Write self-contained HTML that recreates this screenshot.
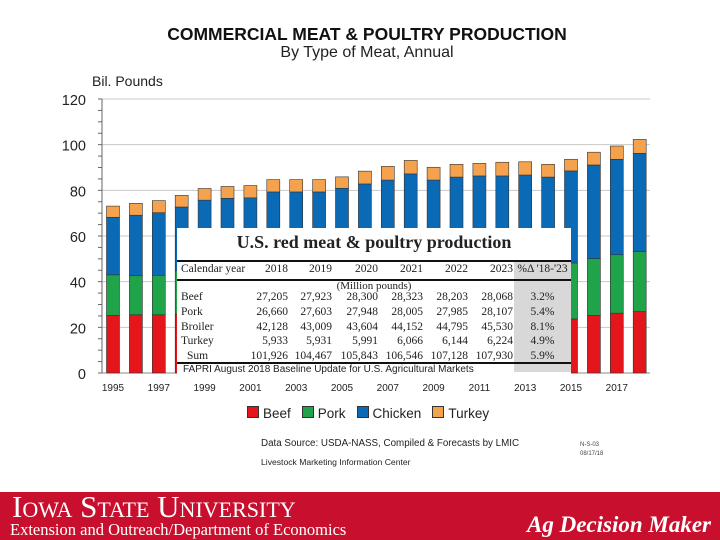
<!DOCTYPE html>
<html><head><meta charset="utf-8"><style>
body{margin:0;width:720px;height:540px;background:#fff;position:relative;overflow:hidden;font-family:"Liberation Sans",sans-serif}
.abs{position:absolute}
</style></head><body>
<div class="abs" style="left:0;width:734px;top:24px;text-align:center;font-weight:bold;font-size:17.5px;color:#111">COMMERCIAL MEAT &amp; POULTRY PRODUCTION</div>
<div class="abs" style="left:0;width:734px;top:44px;text-align:center;font-size:16px;color:#222">By Type of Meat, Annual</div>
<svg class="abs" style="left:0;top:0" width="720" height="490" id="chart"></svg>

<div class="abs" style="left:177px;top:228px;width:394px;height:150px;background:#fff;font-family:'Liberation Serif',serif;color:#222">
  <div style="position:absolute;left:337px;top:33px;width:57px;height:111px;background:#d8d8d8"></div>
  <div style="position:absolute;left:0;width:394px;top:4px;text-align:center;font-weight:bold;font-size:18px">U.S. red meat &amp; poultry production</div>
  <div style="position:absolute;left:0;width:394px;top:32px;border-top:2px solid #111"></div>
  <div style="position:absolute;left:0;width:394px;top:51px;border-top:2px solid #111"></div>
  <div style="position:absolute;left:0;width:394px;top:134px;border-top:2px solid #111"></div>
  <div id="tbl"></div>
  <div style="position:absolute;left:6px;top:136px;font-size:10px;font-family:'Liberation Sans',sans-serif">FAPRI August 2018 Baseline Update for U.S. Agricultural Markets</div>
</div>

<div class="abs" style="left:247px;top:406px;font-size:13.5px;color:#222;display:flex;gap:11px">
  <span><span style="display:inline-block;width:10px;height:10px;background:#e5161b;border:1px solid #333;margin-right:4px"></span>Beef</span>
  <span><span style="display:inline-block;width:10px;height:10px;background:#1fa44a;border:1px solid #333;margin-right:4px"></span>Pork</span>
  <span><span style="display:inline-block;width:10px;height:10px;background:#0b6ab6;border:1px solid #333;margin-right:4px"></span>Chicken</span>
  <span><span style="display:inline-block;width:10px;height:10px;background:#f4a24d;border:1px solid #333;margin-right:4px"></span>Turkey</span>
</div>
<div class="abs" style="left:261px;top:438px;font-size:9.8px;color:#222">Data Source:  USDA-NASS, Compiled &amp; Forecasts by LMIC</div>
<div class="abs" style="left:261px;top:457px;font-size:8.6px;color:#222">Livestock Marketing Information Center</div>
<div class="abs" style="left:580px;top:441px;font-size:6px;color:#444;line-height:9px">N-S-03<br>08/17/18</div>

<div class="abs" style="left:0;top:492px;width:720px;height:48px;background:#c8102e;color:#fff;font-family:'Liberation Serif',serif">
  <div style="position:absolute;left:12px;top:-3px;font-size:31px;font-variant:small-caps;white-space:nowrap">Iowa State University</div>
  <div style="position:absolute;left:10px;top:28px;font-size:16.5px;white-space:nowrap">Extension and Outreach/Department of Economics</div>
  <div style="position:absolute;left:527px;top:20px;font-size:23px;font-style:italic;font-weight:bold;white-space:nowrap">Ag Decision Maker</div>
</div>

<script>
const years=[1995,1996,1997,1998,1999,2000,2001,2002,2003,2004,2005,2006,2007,2008,2009,2010,2011,2012,2013,2014,2015,2016,2017,2018];
const beef=[25.2,25.5,25.5,25.8,26.4,26.9,26.1,27.1,26.2,24.6,24.7,26.1,26.4,26.6,26.0,26.3,26.2,25.9,25.7,24.3,23.7,25.2,26.2,26.9];
const pork=[17.8,17.1,17.3,19.0,19.3,18.9,19.2,19.7,19.9,20.5,20.7,21.1,21.9,23.4,23.0,22.4,22.8,23.3,23.2,22.8,24.5,24.9,25.6,26.3];
const chicken=[25.2,26.5,27.4,27.9,30.0,30.7,31.4,32.5,33.2,34.2,35.5,35.6,36.2,37.2,35.5,37.1,37.3,37.1,37.8,38.7,40.3,41.0,41.8,43.0];
const turkey=[4.9,5.2,5.3,5.1,5.1,5.2,5.4,5.4,5.4,5.4,5.0,5.6,6.0,5.9,5.6,5.6,5.5,6.0,5.8,5.6,5.1,5.6,5.8,6.1];
const yTicks=[0,20,40,60,80,100,120];
const tblYears=["2018","2019","2020","2021","2022","2023"];
const tblBeef=["27,205","27,923","28,300","28,323","28,203","28,068","3.2%"];
const tblPork=["26,660","27,603","27,948","28,005","27,985","28,107","5.4%"];
const tblBroiler=["42,128","43,009","43,604","44,152","44,795","45,530","8.1%"];
const tblTurkey=["5,933","5,931","5,991","6,066","6,144","6,224","4.9%"];
const tblSum=["101,926","104,467","105,843","106,546","107,128","107,930","5.9%"];

const NS="http://www.w3.org/2000/svg";
const svg=document.getElementById('chart');
const x0=102,x1=650,yBase=373,yTop=99;
const y=v=>yBase-(v/120)*(yBase-yTop);
const step=22.9, bx=i=>113+i*step;
function el(t,a){const e=document.createElementNS(NS,t);for(const k in a)e.setAttribute(k,a[k]);svg.appendChild(e);return e;}
yTicks.forEach(t=>{
  const g=el('line',{x1:x0,x2:x1,y1:y(t),y2:y(t),stroke:t===0?'#888':'#c8c8c8','stroke-width':1});
  
  
  const l=el('text',{x:86,y:y(t)+6,'text-anchor':'end','font-size':14.5,fill:'#222','font-family':'Liberation Sans, sans-serif'});
  l.textContent=t;
  
  
});
for(let v=0;v<=120;v+=5){const m=el('line',{x1:x0-4,x2:x0,y1:y(v),y2:y(v),stroke:'#666'});}
const ax=el('line',{x1:x0,x2:x0,y1:yTop,y2:yBase,stroke:'#666'});


const yt=el('text',{x:92,y:86,'font-size':14,fill:'#222','font-family':'Liberation Sans, sans-serif'});
yt.textContent='Bil. Pounds';


const series=[[beef,'#e5161b','beef'],[pork,'#1fa44a','pork'],[chicken,'#0b6ab6','chicken'],[turkey,'#f4a24d','turkey']];
years.forEach((yr,i)=>{
  let cum=0;
  series.forEach(([arr,c,n])=>{
    const v=arr[i];
    const r=el('rect',{x:bx(i)-6.5,y:y(cum+v),width:13,height:y(cum)-y(cum+v),fill:c,stroke:'#333','stroke-width':0.6});
    
    
    cum+=v;
  });
  if(i%2===0){
    const l=el('text',{x:bx(i),y:391,'text-anchor':'middle','font-size':10,fill:'#222','font-family':'Liberation Sans, sans-serif'});
    l.textContent=yr;
    
    
  }
});
const tbl=document.getElementById('tbl');
const colR=[111,155,201,246,291,336];
function row(label,vals,top,name,lx){
  const d=document.createElement('div');
  
  
  d.style.cssText='position:absolute;left:0;top:'+top+'px;width:394px;height:14px;font-size:11.5px';
  let h='<span style="position:absolute;left:'+(lx||4)+'px">'+label+'</span>';
  vals.forEach((v,j)=>{
    if(j<6)h+='<span style="position:absolute;right:'+(394-colR[j])+'px">'+v+'</span>';
    else h+='<span style="position:absolute;left:337px;width:57px;text-align:center">'+v+'</span>';
  });
  d.innerHTML=h;tbl.appendChild(d);
}
row('Calendar year',tblYears.concat(['%Δ \'18-\'23']),35,'table-header-row');
const mp=document.createElement('div');


mp.style.cssText='position:absolute;left:0;width:394px;top:52px;text-align:center;font-size:11px';
mp.textContent='(Million pounds)';tbl.appendChild(mp);
row('Beef',tblBeef,63,'table-row-beef');
row('Pork',tblPork,78,'table-row-pork');
row('Broiler',tblBroiler,93,'table-row-broiler');
row('Turkey',tblTurkey,107,'table-row-turkey');
row('Sum',tblSum,122,'table-row-sum',10);
</script>
</body></html>
